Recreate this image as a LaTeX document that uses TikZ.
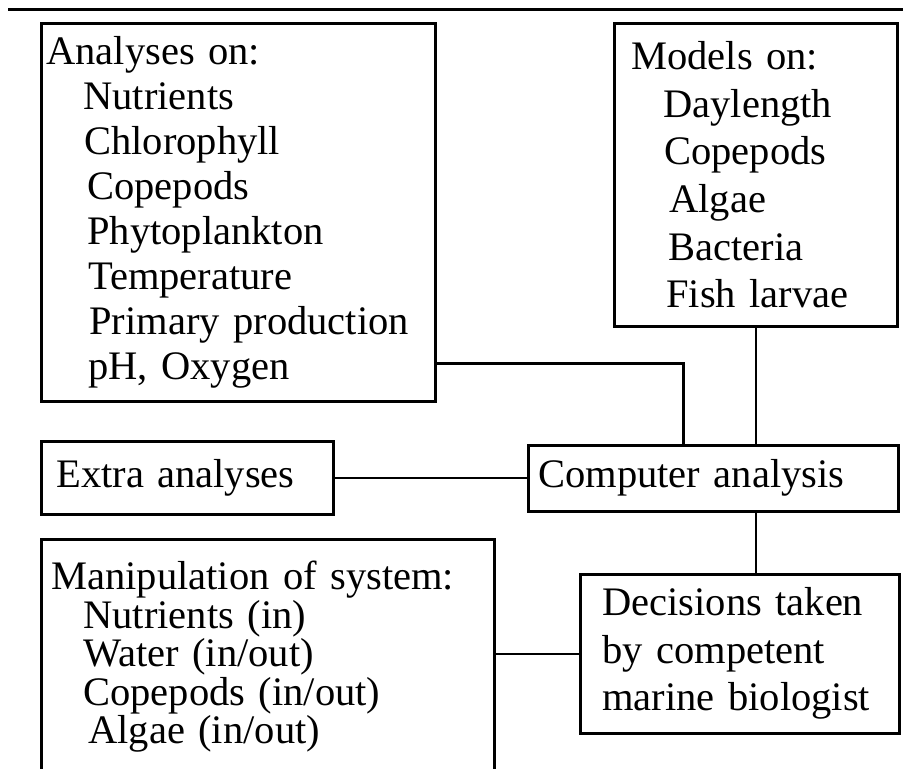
\documentclass[tikz,border=0pt]{standalone}
\usepackage{fontspec}
\setmainfont{Liberation Serif}

\begin{document}
\begin{tikzpicture}[x=1pt, y=-1pt,
  box/.style={draw, line width=2.6pt, anchor=north west, align=left, inner ysep=0pt},
  link/.style={line width=2.6pt}]
\clip (0,0) rectangle (903,769);
\draw [line width=3pt] (8,9) -- (903,9);
\node at (40,22) [box, inner xsep=5pt, text width=384pt, minimum height=378pt, font=\fontsize{40.5}{45.1}\selectfont] (analyses) {Analyses on:\\
\hspace*{37pt}Nutrients\\
\hspace*{38pt}Chlorophyll\\
\hspace*{41pt}Copepods\\
\hspace*{41pt}Phytoplankton\\
\hspace*{42pt}Temperature\\
\hspace*{43pt}Primary production\\
\hspace*{42pt}pH, Oxygen};
\node at (613,22) [box, inner xsep=17pt, text width=249pt, minimum height=303pt, font=\fontsize{40.5}{47.6}\selectfont] (models) {Models on:\\
\hspace*{32pt}Daylength\\
\hspace*{33pt}Copepods\\
\hspace*{38pt}Algae\\
\hspace*{37pt}Bacteria\\
\hspace*{35pt}Fish larvae};
\node at (40,440) [box, inner xsep=15pt, text width=262pt, minimum height=73pt, font=\fontsize{40.5}{45}\selectfont] (extra) {Extra analyses};
\node at (527,444) [box, inner xsep=10pt, text width=350pt, minimum height=66pt, font=\fontsize{40.5}{45}\selectfont] (computer) {Computer analysis};
\node at (40,538) [box, inner xsep=10pt, inner ysep=22pt, text width=433pt, font=\fontsize{40.5}{38.5}\selectfont] (manip) {Manipulation of system:\\
\hspace*{32pt}Nutrients (in)\\
\hspace*{32pt}Water (in/out)\\
\hspace*{32pt}Copepods (in/out)\\
\hspace*{37pt}Algae (in/out)};
\node at (579,573) [box, inner xsep=22pt, text width=275pt, minimum height=159pt, font=\fontsize{40.5}{47.5}\selectfont] (decisions) {Decisions taken\\
by competent\\
marine biologist};
% connections
\draw [link] ([yshift=-151pt]analyses.east) -| ([xshift=-30pt]computer.north);
\draw [link] (models.south) -- (models.south |- computer.north);
\draw [link] (extra.east) -- (extra.east -| computer.west);
\draw [link] (computer.south -| models.south) -- (decisions.north -| models.south);
\draw [link] (decisions.west) -- (decisions.west -| manip.east);
\end{tikzpicture}
\end{document}
